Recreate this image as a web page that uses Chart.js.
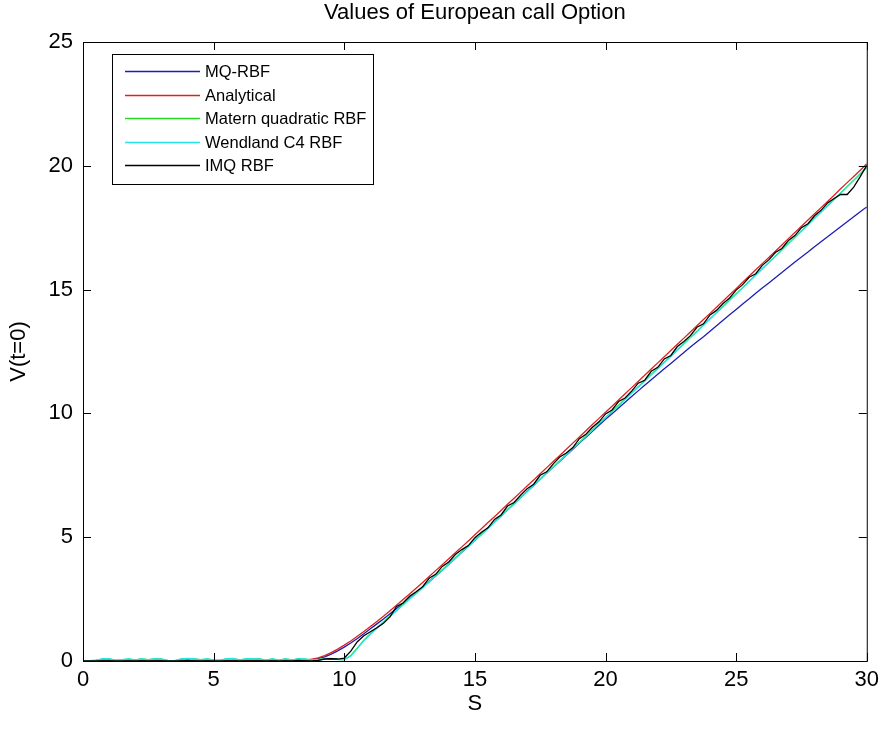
<!DOCTYPE html>
<html>
<head>
<meta charset="utf-8">
<script src="https://cdn.jsdelivr.net/npm/chart.js@4"></script>
<style>
  html, body { margin: 0; padding: 0; background: #fff; }
  #wrap { width: 885px; height: 730px; }
</style>
</head>
<body>
<div id="wrap"><canvas id="opt-chart" width="885" height="730"></canvas></div>
<script>
// ─────────────────────────────────────────────
//  Data (read off the figure, S sampled every 0.25)
// ─────────────────────────────────────────────
const sGrid = Array.from({ length: 121 }, (_, i) => i * 0.25);

const xTicks = [0, 5, 10, 15, 20, 25, 30];
const yTicks = [0, 5, 10, 15, 20, 25];

const seriesNames = ['MQ-RBF', 'Analytical', 'Matern quadratic RBF', 'Wendland C4 RBF', 'IMQ RBF'];
const seriesColors = ['#1e1eb4', '#dc2222', '#22dd22', '#22e6e6', '#000000'];

const mqRbf = [
  0,0,0,0,0,0,0,0,0,0, 0,0,0,0,0,0,0,0,0,0, 0,0,0,0,0,0,0,0,0,0, 0,0,0,0,
  0.02,0.05,0.1,0.17,0.28,0.41,0.56,0.73,0.91,1.1,1.3,1.5,1.7,1.91,2.12,2.33,
  2.55,2.76,2.98,3.2,3.43,3.66,3.91,4.15,4.39,4.63,4.88,5.12,5.37,5.61,5.86,6.11,
  6.35,6.6,6.85,7.09,7.34,7.59,7.83,8.07,8.31,8.55,8.8,9.04,9.28,9.52,9.76,9.99,
  10.22,10.45,10.68,10.91,11.14,11.36,11.58,11.8,12.02,12.24,12.46,12.68,12.89,13.1,
  13.32,13.54,13.76,13.98,14.2,14.42,14.63,14.85,15.06,15.27,15.48,15.69,15.9,16.11,
  16.32,16.52,16.73,16.93,17.13,17.34,17.54,17.74,17.94,18.14,18.34
];

const analytical = [
  0,0,0,0,0,0,0,0,0,0, 0,0,0,0,0,0,0,0,0,0, 0,0,0,0,0,0,0,0,0,0, 0,0,0,
  0.01,0.03,0.07,0.13,0.22,0.34,0.48,0.64,0.81,1.0,1.19,1.39,1.6,1.81,2.03,2.25,
  2.48,2.71,2.94,3.17,3.41,3.65,3.89,4.13,4.37,4.61,4.85,5.1,5.34,5.59,5.83,6.08,
  6.33,6.57,6.82,7.07,7.31,7.56,7.81,8.06,8.3,8.55,8.8,9.05,9.3,9.55,9.8,10.05,
  10.29,10.54,10.79,11.04,11.29,11.54,11.79,12.04,12.29,12.54,12.79,13.04,13.29,13.54,
  13.79,14.04,14.29,14.54,14.79,15.04,15.3,15.55,15.8,16.05,16.3,16.55,16.8,17.06,
  17.31,17.56,17.81,18.06,18.31,18.56,18.81,19.07,19.32,19.57,19.82,20.08
];

const maternQuad = [
  0,0.01,0.03,0.07,0.08,0.03,0.04,0.07,0.04,0.08, 0.05,0.08,0.07,0.02,0.01,0.07,0.09,0.08,0.05,0.07,
  0.04,0.03,0.08,0.09,0.04,0.08,0.07,0.08,0.03,0.08, 0.03,0.08,0.04,0.08,0.07,0.04,0.05,0.09,0.09,0.07,
  0.06,
  0.22,0.52,0.84,1.1,1.34,1.58,1.82,2.05,2.28,2.52,2.75,2.98,3.22,3.46,3.69,3.94,
  4.17,4.42,4.65,4.9,5.13,5.38,5.62,5.87,6.11,6.36,6.6,6.85,7.1,7.35,7.6,7.85,
  8.1,8.34,8.59,8.84,9.09,9.34,9.59,9.84,10.09,10.33,10.58,10.83,11.08,11.32,11.57,11.82,
  12.07,12.32,12.57,12.82,13.07,13.32,13.57,13.82,14.07,14.33,14.58,14.83,15.08,15.34,15.59,15.84,
  16.09,16.35,16.6,16.86,17.11,17.37,17.62,17.88,18.13,18.39,18.64,18.9,19.15,19.41,19.67,19.93
];

const wendlandC4 = [
  0,0,0.02,0.09,0.09,0.02,0.05,0.09,0.03,0.09, 0.04,0.09,0.08,0.01,0,0.09,0.1,0.09,0.04,0.09,
  0.03,0.02,0.09,0.1,0.03,0.09,0.08,0.09,0.02,0.09, 0.02,0.09,0.03,0.09,0.08,0.03,0.05,0.1,0.1,0.06,
  0.05,
  0.2,0.5,0.82,1.08,1.32,1.56,1.8,2.03,2.26,2.5,2.72,2.96,3.19,3.44,3.66,3.92,
  4.14,4.4,4.62,4.88,5.1,5.36,5.6,5.84,6.1,6.33,6.6,6.83,7.09,7.33,7.6,7.83,
  8.09,8.32,8.59,8.82,9.08,9.32,9.59,9.82,10.07,10.31,10.57,10.81,11.06,11.3,11.56,11.8,
  12.06,12.3,12.56,12.8,13.06,13.3,13.57,13.81,14.07,14.31,14.57,14.82,15.08,15.33,15.59,15.84,
  16.1,16.35,16.61,16.86,17.12,17.37,17.63,17.89,18.14,18.4,18.65,18.9,19.16,19.42,19.68,19.95
];

const imqRbf = [
  0,0,0,0,0,0,0,0,0,0, 0,0,0,0,0,0,0.02,0,0,0, 0,0,0,0,0,0,0,0,0,0, 0,0,0,0.02,0,0,
  0.02,0.08,0.09,0.08,0.12,
  0.4,0.78,1.02,1.18,1.34,1.52,1.78,2.2,2.34,2.62,2.8,3.0,3.34,3.5,3.82,4.0,
  4.3,4.5,4.66,4.98,5.2,5.38,5.72,5.9,6.26,6.4,6.7,6.96,7.14,7.5,7.64,7.96,
  8.24,8.4,8.62,8.98,9.16,9.44,9.66,9.98,10.14,10.48,10.62,10.9,11.22,11.34,11.7,11.86,
  12.2,12.34,12.7,12.9,13.14,13.48,13.62,13.98,14.16,14.44,14.66,14.98,15.2,15.5,15.64,15.98,
  16.2,16.5,16.66,16.98,17.18,17.5,17.66,17.98,18.2,18.5,18.68,18.84,18.84,19.14,19.56,20.02
];

const seriesValues = [mqRbf, analytical, maternQuad, wendlandC4, imqRbf];

// ─────────────────────────────────────────────
//  MATLAB-style frame, inward ticks, title, legend
// ─────────────────────────────────────────────
const FONT = "'Liberation Sans', Arial, sans-serif";

const matlabFrame = {
  id: 'matlabFrame',
  afterDraw(chart) {
    const { ctx, chartArea: a, scales: { x, y } } = chart;
    ctx.save();
    ctx.strokeStyle = '#000';
    ctx.lineWidth = 1;
    ctx.strokeRect(a.left + 0.5, a.top + 0.5, a.right - a.left, a.bottom - a.top);

    ctx.beginPath();
    xTicks.forEach(v => {
      const px = Math.round(x.getPixelForValue(v)) + 0.5;
      ctx.moveTo(px, a.bottom); ctx.lineTo(px, a.bottom - 8);
      ctx.moveTo(px, a.top);    ctx.lineTo(px, a.top + 8);
    });
    yTicks.forEach(v => {
      const py = Math.round(y.getPixelForValue(v)) + 0.5;
      ctx.moveTo(a.left, py);  ctx.lineTo(a.left + 8, py);
      ctx.moveTo(a.right, py); ctx.lineTo(a.right - 8, py);
    });
    ctx.stroke();

    // title
    ctx.fillStyle = '#000';
    ctx.font = `22px ${FONT}`;
    ctx.textAlign = 'center';
    ctx.textBaseline = 'middle';
    ctx.fillText('Values of European call Option', (a.left + a.right) / 2, 13);

    // legend
    const bx = a.left + 29, by = a.top + 12;
    const rowH = 23.5, lineLen = 75;
    ctx.font = `16.5px ${FONT}`;
    const textW = Math.max(...seriesNames.map(n => ctx.measureText(n).width));
    const bw = 13 + lineLen + 5 + textW + 7;
    const bh = rowH * (seriesNames.length - 1) + 36;
    ctx.fillStyle = '#fff';
    ctx.fillRect(bx, by, bw, bh);
    ctx.strokeRect(Math.round(bx) + 0.5, Math.round(by) + 0.5, Math.round(bw), Math.round(bh));
    ctx.textAlign = 'left';
    seriesNames.forEach((name, i) => {
      const cy = Math.round(by + 17 + i * rowH);
      ctx.strokeStyle = seriesColors[i];
      ctx.lineWidth = 1.5;
      ctx.beginPath();
      ctx.moveTo(bx + 13, cy + 0.5); ctx.lineTo(bx + 13 + lineLen, cy + 0.5);
      ctx.stroke();
      ctx.fillStyle = '#000';
      ctx.fillText(name, bx + 13 + lineLen + 5, cy + 1);
    });
    ctx.restore();
  }
};

// ─────────────────────────────────────────────
//  Chart
// ─────────────────────────────────────────────
const datasets = seriesNames.map((name, i) => ({
  label: name,
  data: seriesValues[i].map((v, j) => ({ x: sGrid[j], y: v })),
  borderColor: seriesColors[i],
  backgroundColor: seriesColors[i],
  borderWidth: 1.3,
  pointRadius: 0,
  tension: 0,
  order: seriesNames.length - i,   // later series drawn on top
}));

new Chart(document.getElementById('opt-chart'), {
  type: 'line',
  data: { datasets },
  plugins: [matlabFrame],
  options: {
    responsive: false,
    animation: false,
    events: [],
    layout: { padding: { top: 42, right: 12, left: 0, bottom: 0 } },
    plugins: {
      legend: { display: false },
      tooltip: { enabled: false },
    },
    scales: {
      x: {
        type: 'linear',
        min: 0, max: 30,
        afterFit: s => { s.height = 69; },
        grid: { display: false, drawTicks: false },
        border: { display: false },
        ticks: {
          stepSize: 5, color: '#000', padding: 6,
          font: { family: FONT, size: 22 },
        },
        title: {
          display: true, text: 'S', color: '#000',
          font: { family: FONT, size: 22 },
          padding: { top: 0, bottom: 13 },
        },
      },
      y: {
        min: 0, max: 25,
        afterFit: s => { s.width = 83; },
        grid: { display: false, drawTicks: false },
        border: { display: false },
        ticks: {
          stepSize: 5, color: '#000', padding: 10,
          font: { family: FONT, size: 22 },
        },
        title: {
          display: true, text: 'V(t=0)', color: '#000',
          font: { family: FONT, size: 22 },
          padding: { top: 6, bottom: 0 },
        },
      },
    },
  },
});
</script>
</body>
</html>
